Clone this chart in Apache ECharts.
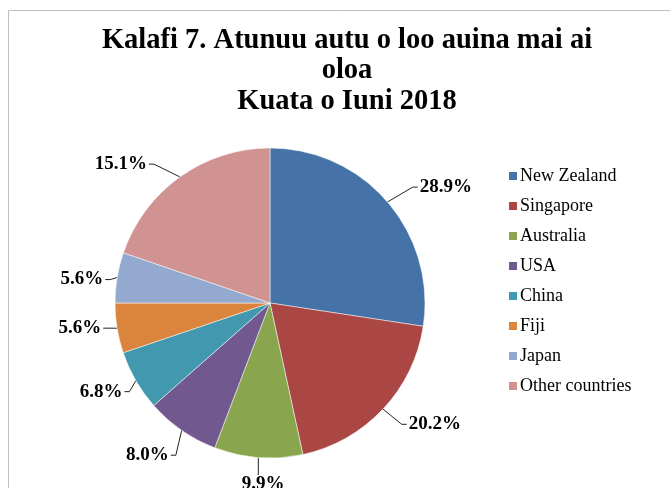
<!DOCTYPE html>
<html>
<head>
<meta charset="utf-8">
<script src="https://cdn.jsdelivr.net/npm/echarts@6/dist/echarts.min.js"></script>
<style>
  html, body { margin: 0; padding: 0; background: #fff; }
  #main { width: 670px; height: 488px; }
</style>
</head>
<body>
<div id="main"></div>
<script>
// data
const countries = ['New Zealand', 'Singapore', 'Australia', 'USA', 'China', 'Fiji', 'Japan', 'Other countries'];
// slice sizes as drawn (share of the circle, %)
const sliceSizes = [27.4, 19.2, 9.2, 7.7, 6.3, 5.2, 5.25, 19.75];
// percentages printed on the labels
const labelShares = ['28.9%', '20.2%', '9.9%', '8.0%', '6.8%', '5.6%', '5.6%', '15.1%'];
const colors = ['#4572A7', '#AA4643', '#89A54E', '#71588F', '#4198AF', '#DB843D', '#93A9CF', '#D19392'];

// small nudges so the labels sit where the original chart put them
const labelNudge = [[15, -7], [9, 7], [35, 15], [2, 15], [5, 5], [4, -2], [6, 4], [-18, -3]];

const serif = '"Liberation Serif", "DejaVu Serif", serif';

// redraw the leader line after a label has been nudged:
// from the slice edge out to the label, with a short horizontal tail (Excel style)
const moveLabel = p => {
  const [dx, dy] = labelNudge[p.dataIndex];
  const r = p.labelRect;
  const x = r.x + dx, y = r.y + dy;
  const start = p.labelLinePoints[0].slice();
  const labelMid = x + r.width / 2;
  let mid, end;
  if (Math.abs(labelMid - start[0]) < r.width / 2 && y > start[1]) {
    // label straight below the slice
    end = [start[0], y];
    mid = end;
  } else if (labelMid > start[0]) {
    end = [x - 2, y + r.height / 2];
    mid = [end[0] - 5, end[1]];
  } else {
    end = [x + r.width + 2, y + r.height / 2];
    mid = [end[0] + 5, end[1]];
  }
  return { dx: dx, dy: dy, labelLinePoints: [start, mid, end] };
};

const chart = echarts.init(document.getElementById('main'));

chart.setOption({
  animation: false,
  color: colors,
  graphic: [{
    type: 'rect',
    shape: { x: 8.5, y: 10.5, width: 700, height: 500 },
    style: { fill: 'none', stroke: '#bfbfbf', lineWidth: 1 },
    silent: true
  }],
  title: {
    text: 'Kalafi 7. Atunuu autu o loo auina mai ai\noloa\nKuata o Iuni 2018',
    left: 342,
    top: 20,
    textAlign: 'center',
    textStyle: {
      fontFamily: serif,
      fontWeight: 'bold',
      fontSize: 28.5,
      lineHeight: 30.5,
      color: '#000'
    }
  },
  legend: {
    orient: 'vertical',
    left: 507,
    top: 167,
    padding: 0,
    icon: 'rect',
    itemWidth: 10,
    itemHeight: 10,
    itemGap: 12,
    textStyle: { fontFamily: serif, fontSize: 18, lineHeight: 18, color: '#000', padding: [0, 0, 0, -3] },
    data: countries
  },
  series: [{
    type: 'pie',
    center: [270, 303],
    radius: 155,
    startAngle: 90,
    clockwise: true,
    itemStyle: { borderColor: '#fff', borderWidth: 0.5 },
    label: {
      show: true,
      position: 'outside',
      formatter: p => labelShares[p.dataIndex],
      fontFamily: serif,
      fontWeight: 'bold',
      fontSize: 19,
      color: '#000',
      distanceToLabelLine: 2
    },
    labelLine: {
      show: true,
      length: 12,
      length2: 6,
      lineStyle: { color: '#222', width: 1 }
    },
    labelLayout: moveLabel,
    data: countries.map((c, i) => ({ name: c, value: sliceSizes[i] }))
  }]
});
</script>
</body>
</html>
